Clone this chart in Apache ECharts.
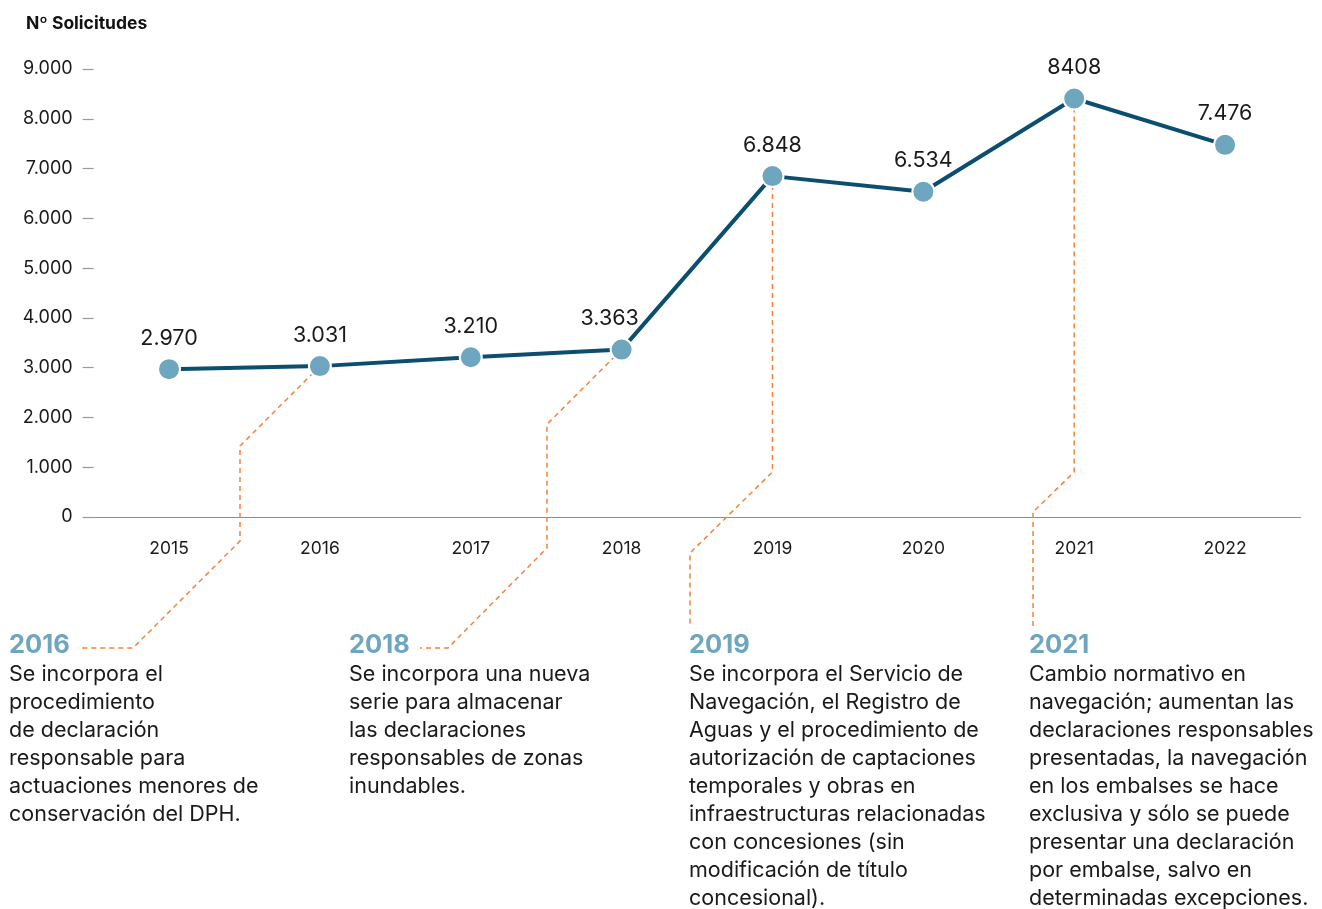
<!DOCTYPE html>
<html>
<head>
<meta charset="utf-8">
<script src="https://cdn.jsdelivr.net/npm/echarts@6/dist/echarts.min.js"></script>
<style>
  html, body { margin: 0; padding: 0; background: #fff; }
  #chart { width: 1322px; height: 909px; }
</style>
</head>
<body>
<div id="chart"></div>
<script>
const years = ['2015', '2016', '2017', '2018', '2019', '2020', '2021', '2022'];
const requests = [2970, 3031, 3210, 3363, 6848, 6534, 8408, 7476];
const valueLabels = ['2.970', '3.031', '3.210', '3.363', '6.848', '6.534', '8408', '7.476'];
const yTickLabels = ['0', '1.000', '2.000', '3.000', '4.000', '5.000', '6.000', '7.000', '8.000', '9.000'];

// milestones shown under the chart
const noteYears = ['2016', '2018', '2019', '2021'];
const noteTexts = [
  'Se incorpora el\nprocedimiento\nde declaración\nresponsable para\nactuaciones menores de\nconservación del DPH.',
  'Se incorpora una nueva\nserie para almacenar\nlas declaraciones\nresponsables de zonas\ninundables.',
  'Se incorpora el Servicio de\nNavegación, el Registro de\nAguas y el procedimiento de\nautorización de captaciones\ntemporales y obras en\ninfraestructuras relacionadas\ncon concesiones (sin\nmodificación de título\nconcesional).',
  'Cambio normativo en\nnavegación; aumentan las\ndeclaraciones responsables\npresentadas, la navegación\nen los embalses se hace\nexclusiva y sólo se puede\npresentar una declaración\npor embalse, salvo en\ndeterminadas excepciones.'
];

const FONT = 'Inter, "Noto Sans", sans-serif';
const ORANGE = '#f0843c';

const chart = echarts.init(document.getElementById('chart'));

// the 2018 label sits a little left so it clears the rising line
const seriesData = requests.map((v, i) =>
  years[i] === '2018' ? { value: v, label: { offset: [-12, 0] } } : v
);

chart.setOption({
  animation: false,
  textStyle: { fontFamily: FONT },
  title: {
    text: 'Nº Solicitudes',
    left: 21,
    top: 10,
    textStyle: { fontSize: 17.5, fontWeight: 'bold', color: '#111', fontFamily: FONT }
  },
  grid: { left: 93.6, right: 21.5, top: 69, bottom: 392 },
  xAxis: {
    type: 'category',
    data: years,
    boundaryGap: true,
    axisLine: { lineStyle: { color: '#8c8c8c', width: 1.2 } },
    axisTick: { show: false },
    axisLabel: { color: '#1a1a1a', fontSize: 17.5, margin: 23, fontFamily: FONT }
  },
  yAxis: {
    type: 'value',
    min: 0,
    max: 9000,
    interval: 1000,
    axisLine: { show: false },
    axisTick: { show: true, length: 11, lineStyle: { color: '#9a9a9a', width: 1.2 } },
    splitLine: { show: false },
    axisLabel: {
      color: '#1a1a1a',
      fontSize: 18,
      margin: 21,
      fontFamily: FONT,
      formatter: v => yTickLabels[Math.round(v / 1000)]
    }
  },
  series: [{
    type: 'line',
    data: seriesData,
    z: 5,
    symbol: 'circle',
    symbolSize: 22,
    itemStyle: { color: '#6ea6c0', borderColor: '#fff', borderWidth: 2 },
    lineStyle: { color: '#0b4e70', width: 4 },
    label: {
      show: true,
      position: 'top',
      distance: 8,
      fontSize: 21.5,
      color: '#1a1a1a',
      fontFamily: FONT,
      formatter: p => valueLabels[p.dataIndex]
    }
  }]
});

// dashed connectors from points down to the milestone notes
function pt(year) {
  const i = years.indexOf(year);
  return chart.convertToPixel({ seriesIndex: 0 }, [i, requests[i]]);
}
const dash = { stroke: ORANGE, lineWidth: 1.5, lineDash: [5, 4], fill: null };
const p16 = pt('2016'), p18 = pt('2018'), p19 = pt('2019'), p21 = pt('2021');
const connectors = [
  [p16, [240, p16[1] + (p16[0] - 240)], [240, 541], [133, 648], [78, 648]],
  [p18, [547, p18[1] + (p18[0] - 547)], [547, 548], [448, 648], [420, 648]],
  [p19, [p19[0], 472], [690, 553], [690, 626]],
  [p21, [p21[0], 472], [1033, 512], [1033, 626]]
];
const noteX = [9, 349, 689, 1029];

const graphics = connectors.map(points => ({
  type: 'polyline',
  z: 1,
  silent: true,
  shape: { points },
  style: dash
}));
noteYears.forEach((y, i) => {
  graphics.push({
    type: 'text',
    left: noteX[i],
    top: 632,
    style: { text: y, fontSize: 25.5, fontWeight: 'bold', fill: '#6ea6c0', fontFamily: FONT }
  });
  graphics.push({
    type: 'text',
    left: noteX[i],
    top: 661,
    style: { text: noteTexts[i], fontSize: 21.5, lineHeight: 28, fill: '#1a1a1a', fontFamily: FONT }
  });
});
chart.setOption({ graphic: graphics });
</script>
</body>
</html>
